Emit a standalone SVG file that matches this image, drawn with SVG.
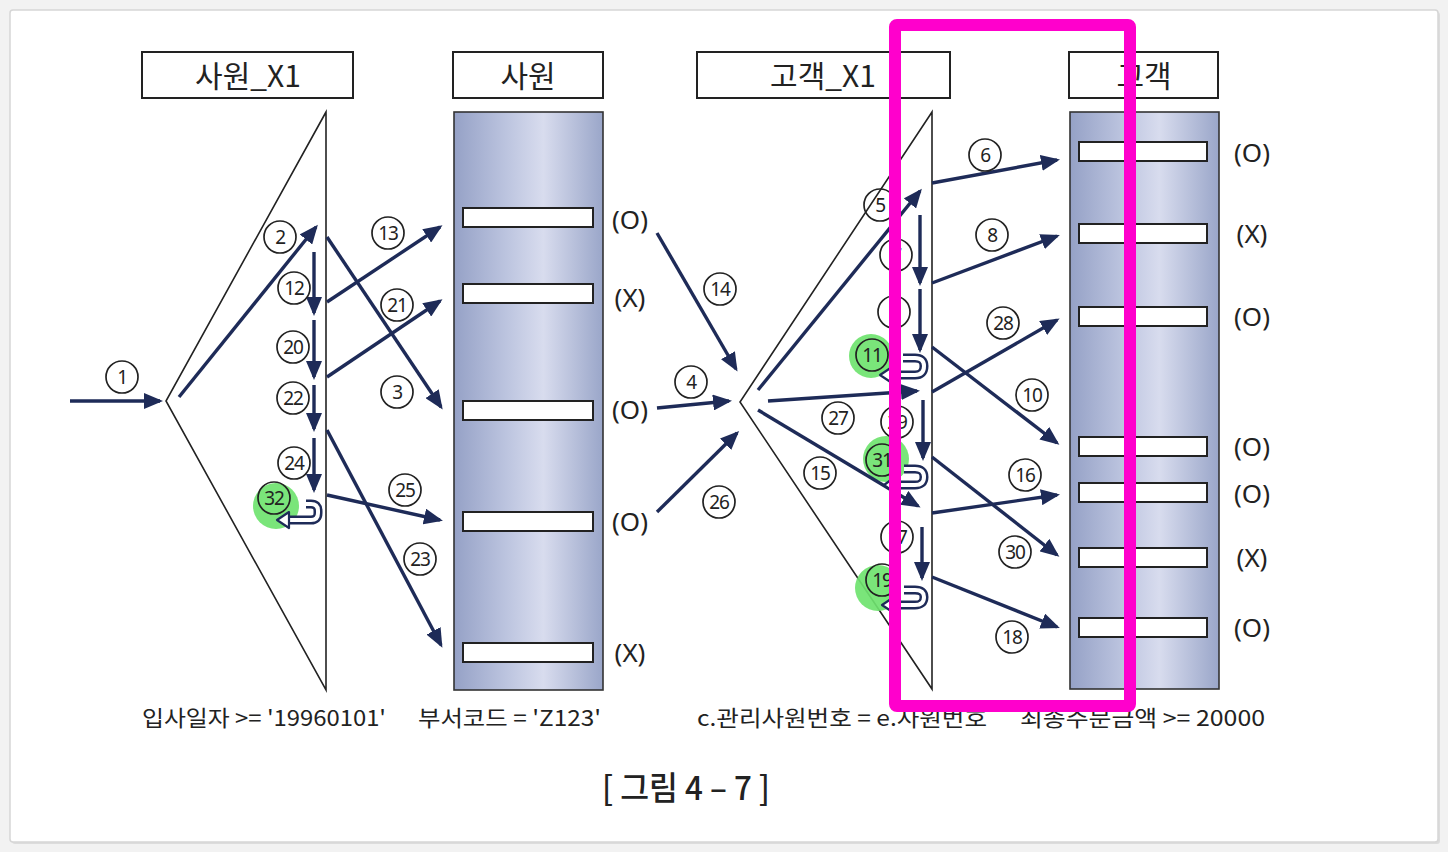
<svg xmlns="http://www.w3.org/2000/svg" width="1448" height="852" viewBox="0 0 1448 852">
<defs>
<style>
.frame{fill:#ffffff;stroke:#d6d6d6;stroke-width:1.5}
.hdr rect{fill:#ffffff;stroke:#222;stroke-width:2}
.hdr text{font-family:"Noto Sans CJK KR","Noto Sans",sans-serif;font-size:30px;fill:#222;text-anchor:middle}
.tri{fill:none;stroke:#222;stroke-width:1.6;stroke-linejoin:miter}
.body{fill:url(#tg);stroke:#333;stroke-width:1.6}
.row{fill:#ffffff;stroke:#222;stroke-width:2}
.ox{font-family:"Noto Sans","Noto Sans CJK KR",sans-serif;font-size:26px;fill:#222;text-anchor:middle}
.ar{stroke:#1e2b58;stroke-width:3.4;fill:none;marker-end:url(#ah)}
.hk{stroke:#1e2b58;stroke-width:9;fill:none;stroke-linejoin:round}
.hki{stroke:#ffffff;stroke-width:4;fill:none;stroke-linejoin:round}
.hka{fill:#ffffff;stroke:#1e2b58;stroke-width:2.2;stroke-linejoin:round}
.lbl circle{fill:none;stroke:#222;stroke-width:1.7}
.lbl text{font-family:"Noto Sans","Liberation Sans",sans-serif;font-size:19px;fill:#222;text-anchor:middle;letter-spacing:-1.2px}
.grn{fill:#6fe36f;opacity:0.92}
.cond{font-family:"Noto Sans CJK KR","Noto Sans",sans-serif;font-size:22px;fill:#222}
.cap{font-family:"Noto Sans CJK KR","Noto Sans",sans-serif;font-size:33px;font-weight:500;fill:#222;text-anchor:middle}
.mag{fill:none;stroke:#ff00cc;stroke-width:12}
</style>
<linearGradient id="tg" x1="0" y1="0" x2="1" y2="0">
<stop offset="0" stop-color="#95a1c6"/>
<stop offset="0.35" stop-color="#bcc4df"/>
<stop offset="0.6" stop-color="#d8dcee"/>
<stop offset="1" stop-color="#9aa6c9"/>
</linearGradient>
<marker id="ah" markerUnits="userSpaceOnUse" markerWidth="19" markerHeight="16" refX="16" refY="8" orient="auto">
<path d="M0,0 L19,8 L0,16 z" fill="#1e2b58"/>
</marker>
</defs>

<rect x="0" y="0" width="1448" height="852" fill="#f2f2f2"/>
<rect x="12" y="12" width="1428" height="832" rx="3" fill="#dcdcdc"/>
<rect class="frame" x="10" y="10" width="1428" height="832" rx="3"/>

<g id="hdr-emp-x1" class="hdr"><rect x="142" y="52" width="211" height="46"/><text x="248" y="87">사원_X1</text></g>
<g id="hdr-emp" class="hdr"><rect x="453" y="52" width="150" height="46"/><text x="528" y="87">사원</text></g>
<g id="hdr-cust-x1" class="hdr"><rect x="697" y="52" width="253" height="46"/><text x="823" y="87">고객_X1</text></g>
<g id="hdr-cust" class="hdr"><rect x="1069" y="52" width="149" height="46"/><text x="1144" y="87">고객</text></g>

<g id="idx-emp-x1"><polygon class="tri" points="326,112 166,401 326,690"/></g>
<g id="idx-cust-x1"><polygon class="tri" points="932,112 740,402 932,689"/></g>

<g id="greens">
<circle class="grn" cx="276" cy="506" r="23"/>
<circle class="grn" cx="871" cy="356" r="22"/>
<circle class="grn" cx="886" cy="459" r="23"/>
<circle class="grn" cx="878" cy="588" r="23"/>
</g>

<g id="tbl-emp">
<rect class="body" x="454" y="112" width="149" height="578"/>
<rect class="row" x="463" y="208" width="130" height="19"/>
<rect class="row" x="463" y="284" width="130" height="19"/>
<rect class="row" x="463" y="401" width="130" height="19"/>
<rect class="row" x="463" y="512" width="130" height="19"/>
<rect class="row" x="463" y="643" width="130" height="19"/>
<text class="ox" x="630" y="229">(O)</text>
<text class="ox" x="630" y="307">(X)</text>
<text class="ox" x="630" y="419">(O)</text>
<text class="ox" x="630" y="531">(O)</text>
<text class="ox" x="630" y="662">(X)</text>
</g>

<g id="tbl-cust">
<rect class="body" x="1070" y="112" width="149" height="577"/>
<rect class="row" x="1079" y="142" width="128" height="19"/>
<rect class="row" x="1079" y="224" width="128" height="19"/>
<rect class="row" x="1079" y="307" width="128" height="19"/>
<rect class="row" x="1079" y="437" width="128" height="19"/>
<rect class="row" x="1079" y="483" width="128" height="19"/>
<rect class="row" x="1079" y="548" width="128" height="19"/>
<rect class="row" x="1079" y="618" width="128" height="19"/>
<text class="ox" x="1252" y="162">(O)</text>
<text class="ox" x="1252" y="243">(X)</text>
<text class="ox" x="1252" y="326">(O)</text>
<text class="ox" x="1252" y="456">(O)</text>
<text class="ox" x="1252" y="503">(O)</text>
<text class="ox" x="1252" y="567">(X)</text>
<text class="ox" x="1252" y="637">(O)</text>
</g>

<g id="connectors">
<line class="ar" x1="70" y1="401" x2="160" y2="401"/>
<line class="ar" x1="179" y1="397" x2="316" y2="227"/>
<line class="ar" x1="327" y1="237" x2="441" y2="407"/>
<line class="ar" x1="314" y1="252" x2="314" y2="313"/>
<line class="ar" x1="314" y1="320" x2="314" y2="377"/>
<line class="ar" x1="314" y1="385" x2="314" y2="429"/>
<line class="ar" x1="314" y1="438" x2="314" y2="490"/>
<line class="ar" x1="327" y1="302" x2="440" y2="227"/>
<line class="ar" x1="327" y1="377" x2="440" y2="301"/>
<line class="ar" x1="327" y1="430" x2="441" y2="645"/>
<line class="ar" x1="327" y1="495" x2="440" y2="520"/>
<path class="hk" d="M306,504 H311 Q318,504 318,511 V513 Q318,520 311,520 H288"/>
<path class="hki" d="M306,504 H311 Q318,504 318,511 V513 Q318,520 311,520 H288"/>
<polygon class="hka" points="289,512 277,520 289,528"/>

<line class="ar" x1="657" y1="233" x2="736" y2="369"/>
<line class="ar" x1="657" y1="408" x2="729" y2="401"/>
<line class="ar" x1="657" y1="512" x2="737" y2="433"/>

<line class="ar" x1="758" y1="390" x2="920" y2="191"/>
<line class="ar" x1="768" y1="401" x2="917" y2="391"/>
<line class="ar" x1="758" y1="410" x2="918" y2="506"/>
<line class="ar" x1="932" y1="183" x2="1057" y2="160"/>
<line class="ar" x1="932" y1="283" x2="1057" y2="236"/>
<line class="ar" x1="932" y1="347" x2="1057" y2="443"/>
<line class="ar" x1="932" y1="392" x2="1057" y2="320"/>
<line class="ar" x1="932" y1="457" x2="1057" y2="555"/>
<line class="ar" x1="932" y1="513" x2="1057" y2="495"/>
<line class="ar" x1="932" y1="577" x2="1057" y2="627"/>
<line class="ar" x1="920" y1="215" x2="920" y2="283"/>
<line class="ar" x1="920" y1="289" x2="920" y2="350"/>
<line class="ar" x1="923" y1="400" x2="923" y2="458"/>
<line class="ar" x1="922" y1="527" x2="922" y2="578"/>
<path class="hk" d="M903,358 H915 Q924,358 924,366 V366 Q924,375 915,375 H891"/>
<path class="hki" d="M903,358 H915 Q924,358 924,366 V366 Q924,375 915,375 H891"/>
<polygon class="hka" points="892,367 880,375 892,383"/>
<path class="hk" d="M904,469 H915 Q924,469 924,477 Q924,485 915,485 H894"/>
<path class="hki" d="M904,469 H915 Q924,469 924,477 Q924,485 915,485 H894"/>
<polygon class="hka" points="895,477 884,485 895,493"/>
<path class="hk" d="M904,590 H915 Q924,590 924,597 Q924,605 915,605 H893"/>
<path class="hki" d="M904,590 H915 Q924,590 924,597 Q924,605 915,605 H893"/>
<polygon class="hka" points="894,597 882,605 894,613"/>
</g>

<g id="labels">
<g class="lbl"><circle cx="122" cy="377" r="16"/><text x="122" y="384">1</text></g>
<g class="lbl"><circle cx="280" cy="237" r="16"/><text x="280" y="244">2</text></g>
<g class="lbl"><circle cx="397" cy="392" r="16"/><text x="397" y="399">3</text></g>
<g class="lbl"><circle cx="294" cy="288" r="16"/><text x="294" y="295">12</text></g>
<g class="lbl"><circle cx="388" cy="233" r="16"/><text x="388" y="240">13</text></g>
<g class="lbl"><circle cx="293" cy="347" r="16"/><text x="293" y="354">20</text></g>
<g class="lbl"><circle cx="397" cy="305" r="16"/><text x="397" y="312">21</text></g>
<g class="lbl"><circle cx="293" cy="398" r="16"/><text x="293" y="405">22</text></g>
<g class="lbl"><circle cx="294" cy="463" r="16"/><text x="294" y="470">24</text></g>
<g class="lbl"><circle cx="274" cy="498" r="16"/><text x="274" y="505">32</text></g>
<g class="lbl"><circle cx="405" cy="490" r="16"/><text x="405" y="497">25</text></g>
<g class="lbl"><circle cx="420" cy="559" r="16"/><text x="420" y="566">23</text></g>
<g class="lbl"><circle cx="720" cy="289" r="16"/><text x="720" y="296">14</text></g>
<g class="lbl"><circle cx="691" cy="382" r="16"/><text x="691" y="389">4</text></g>
<g class="lbl"><circle cx="719" cy="502" r="16"/><text x="719" y="509">26</text></g>
<g class="lbl"><circle cx="880" cy="205" r="16"/><text x="880" y="212">5</text></g>
<g class="lbl"><circle cx="985" cy="155" r="16"/><text x="985" y="162">6</text></g>
<g class="lbl"><circle cx="896" cy="255" r="16"/><text x="896" y="262">7</text></g>
<g class="lbl"><circle cx="992" cy="235" r="16"/><text x="992" y="242">8</text></g>
<g class="lbl"><circle cx="894" cy="312" r="16"/><text x="894" y="319">9</text></g>
<g class="lbl"><circle cx="872" cy="355" r="16"/><text x="872" y="362">11</text></g>
<g class="lbl"><circle cx="1032" cy="395" r="16"/><text x="1032" y="402">10</text></g>
<g class="lbl"><circle cx="1003" cy="323" r="16"/><text x="1003" y="330">28</text></g>
<g class="lbl"><circle cx="838" cy="418" r="16"/><text x="838" y="425">27</text></g>
<g class="lbl"><circle cx="897" cy="422" r="16"/><text x="897" y="429">29</text></g>
<g class="lbl"><circle cx="882" cy="460" r="16"/><text x="882" y="467">31</text></g>
<g class="lbl"><circle cx="820" cy="473" r="16"/><text x="820" y="480">15</text></g>
<g class="lbl"><circle cx="1025" cy="475" r="16"/><text x="1025" y="482">16</text></g>
<g class="lbl"><circle cx="1015" cy="552" r="16"/><text x="1015" y="559">30</text></g>
<g class="lbl"><circle cx="897" cy="537" r="16"/><text x="897" y="544">17</text></g>
<g class="lbl"><circle cx="882" cy="580" r="16"/><text x="882" y="587">19</text></g>
<g class="lbl"><circle cx="1012" cy="637" r="16"/><text x="1012" y="644">18</text></g>
</g>

<g id="conditions">
<text class="cond" x="142" y="726" textLength="244" lengthAdjust="spacingAndGlyphs">입사일자 &gt;= '19960101'</text>
<text class="cond" x="418" y="726" textLength="183" lengthAdjust="spacingAndGlyphs">부서코드 = 'Z123'</text>
<text class="cond" x="697" y="726" textLength="290" lengthAdjust="spacingAndGlyphs">c.관리사원번호 = e.사원번호</text>
<text class="cond" x="1020" y="726" textLength="245" lengthAdjust="spacingAndGlyphs">최종주문금액 &gt;= 20000</text>
</g>

<g id="caption"><text class="cap" x="686" y="800" textLength="168" lengthAdjust="spacingAndGlyphs">[ 그림 4 – 7 ]</text></g>

<g id="highlight"><rect class="mag" x="895" y="25" width="235" height="681" rx="2"/></g>
</svg>
